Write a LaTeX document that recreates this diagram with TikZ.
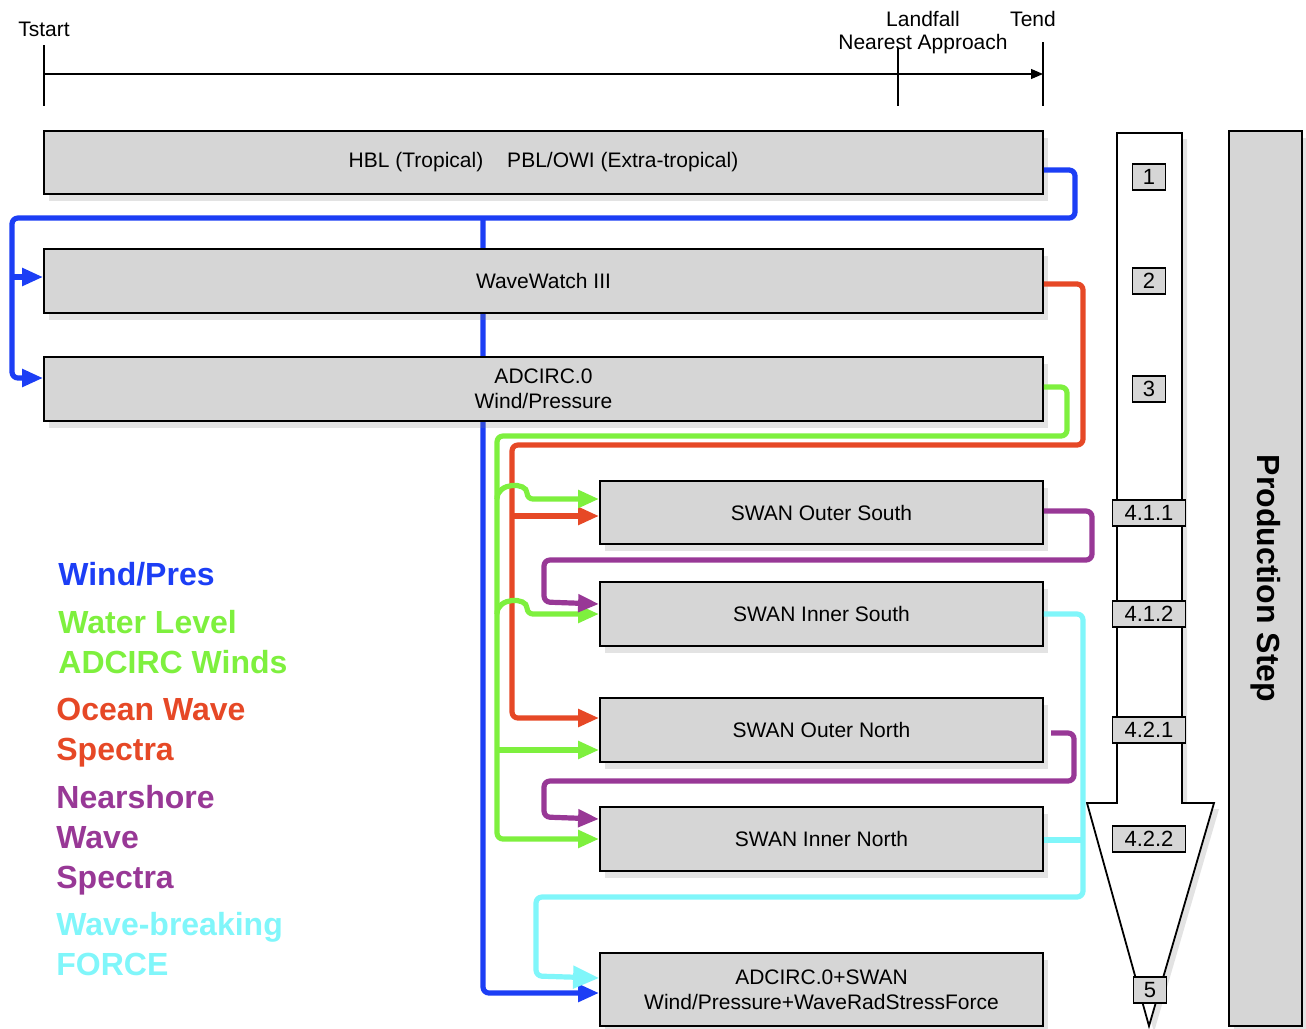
\documentclass[tikz,border=0pt]{standalone}
\usepackage{fontspec}
\setmainfont{Liberation Sans}
\usepackage{xcolor}
\usepackage{tikz}
\usetikzlibrary{arrows.meta,shadows,calc}

\definecolor{windblue}{RGB}{28,62,245}
\definecolor{wlgreen}{RGB}{126,240,62}
\definecolor{wavered}{RGB}{230,72,38}
\definecolor{nspurple}{RGB}{152,56,150}
\definecolor{forcecyan}{RGB}{128,246,250}
\definecolor{boxgray}{RGB}{214,214,214}

\pgfdeclarelayer{background}
\pgfsetlayers{background,main}

\begin{document}
\begin{tikzpicture}[
    x=0.5pt, y=-0.5pt,
    box/.style={draw, line width=0.9pt, fill=boxgray, inner sep=0pt, align=center,
        font=\fontsize{10.5}{12.5}\selectfont,
        drop shadow={shadow xshift=2.5pt, shadow yshift=-3.5pt, opacity=0.22}},
    widebox/.style={box, minimum width=499.5pt, minimum height=32pt},
    swanbox/.style={box, minimum width=221.5pt, minimum height=32pt},
    stepbox/.style={draw, line width=0.8pt, fill=boxgray, inner sep=0pt, minimum width=16.5pt,
        minimum height=13pt, font=\fontsize{11}{12}\selectfont},
    substep/.style={stepbox, minimum width=36.5pt},
    tlabel/.style={inner sep=0pt, font=\fontsize{10.5}{12.5}\selectfont},
    timeln/.style={draw, line width=0.6pt},
    legend/.style={anchor=west, inner sep=0pt, align=left, font=\fontsize{16}{20}\bfseries},
    conn/.style={line width=2.6pt, rounded corners=3pt},
    headed/.style={-{Triangle[length=10.5pt,width=8.5pt]}},
    bighead/.style={-{Triangle[length=13pt,width=11pt]}}
]
\useasboundingbox (0,0) rectangle (1306,1028);

% Time line
\node[tlabel] (tstart) at (44,29) {Tstart};
\node[tlabel] (landfall) at (923,19) {Landfall};
\node[tlabel] (nearest) at (923,44) {Nearest Approach};
\node[tlabel] (tend) at (1033,19) {Tend};
\coordinate (t0) at (44,74);
\coordinate (t1) at (1043,74);
\draw[timeln, -{Triangle[length=6pt,width=5pt]}] (t0) -- (t1);
\draw[timeln] (44,45) -- (44,106);
\draw[timeln] (898,48) -- (898,106);
\draw[timeln] (1043,42) -- (1043,106);

% Model runs
\node[widebox, minimum height=31.5pt] (hbl) at (543.5,162.5) {\raisebox{-1.5pt}{HBL (Tropical)\hspace{12pt}PBL/OWI (Extra-tropical)}};
\node[widebox] (ww3) at (543.5,281) {WaveWatch III};
\node[widebox] (adc) at (543.5,389) {ADCIRC.0\\Wind/Pressure};
\node[swanbox, minimum height=31.5pt] (sos) at (821.5,512.5) {SWAN Outer South};
\node[swanbox] (sis) at (821.5,614) {SWAN Inner South};
\node[swanbox] (son) at (821.5,730) {SWAN Outer North};
\node[swanbox] (sin) at (821.5,839) {SWAN Inner North};
\node[swanbox, minimum height=36.5pt] (adcswan) at (821.5,989.5) {ADCIRC.0+SWAN\\Wind/Pressure+WaveRadStressForce};

% Production step arrow
\draw[line width=0.9pt, fill=white, drop shadow={shadow xshift=2.5pt, shadow yshift=-3pt, opacity=0.22}]
    (1117,133) -- (1182,133) -- (1182,803) -- (1214,803) -- (1149,1026) -- (1087,803) -- (1117,803) -- cycle;
\node[stepbox] (st1) at (1149,177) {1};
\node[stepbox] (st2) at (1149,281) {2};
\node[stepbox] (st3) at (1149,389) {3};
\node[substep] (st411) at (1149,513) {4.1.1};
\node[substep] (st412) at (1149,614) {4.1.2};
\node[substep] (st421) at (1149,730) {4.2.1};
\node[substep] (st422) at (1149,839) {4.2.2};
\node[stepbox] (st5) at (1150,990) {5};
\node[box, rotate=-90, minimum width=447.5pt, minimum height=36.5pt, font=\fontsize{16}{19}\bfseries] (prod) at (1265.5,578.5) {Production Step};

% Legend
\node[legend, text=windblue] (lgwind) at (58,574) {Wind/Pres};
\node[legend, text=wlgreen] (lgwater) at (58,642) {Water Level\\ADCIRC Winds};
\node[legend, text=wavered] (lgocean) at (56,733) {Ocean Wave\\Spectra};
\node[legend, text=nspurple] (lgnear) at (56,840) {Nearshore\\Wave\\Spectra};
\node[legend, text=forcecyan] (lgforce) at (56,944) {Wave-breaking\\FORCE};

% Wind/Pres
\coordinate (wsplit) at (483,218);
\coordinate (wleft) at (12,277);
\begin{pgfonlayer}{background}
\draw[conn, headed, windblue] (wsplit) |- (adcswan.west |- 0,993);
\end{pgfonlayer}
\draw[conn, headed, windblue] (hbl.east |- 0,170) -| (1075,218) -| (12,378) -- (adc.west |- 0,378);
\draw[conn, headed, windblue] (wleft) -- (ww3.west |- 0,277);

% Ocean wave spectra
\draw[conn, headed, wavered] (ww3.east |- 0,284) -| (1083,445) -| (512,718) -- (son.west |- 0,718);
\coordinate (rsplit) at (512,516);
\draw[conn, headed, wavered] (rsplit) -- (sos.west |- 0,516);

% Water level / ADCIRC winds
\draw[conn, headed, wlgreen] (adc.east |- 0,387) -| (1067,436) -| (497,839) -- (sin.west |- 0,839);
\coordinate (gsplit1) at (497,499);
\coordinate (gsplit2) at (497,614);
\coordinate (gsplit3) at (497,750);
\draw[conn, headed, wlgreen] (gsplit1) .. controls (497,482) and (527,482) .. (527,499) -- (sos.west |- 0,499);
\draw[conn, headed, wlgreen] (gsplit2) .. controls (497,597) and (527,597) .. (527,614) -- (sis.west |- 0,614);
\draw[conn, headed, wlgreen] (gsplit3) -- (son.west |- 0,750);

% Nearshore wave spectra
\draw[conn, headed, nspurple] (sos.east |- 0,511) -| (1092,560) -| (544,602) -- (sis.west |- 0,604);
\coordinate (nsstart) at (1051,733);
\draw[conn, headed, nspurple] (nsstart) -| (1074,781) -| (544,817) -- (sin.west |- 0,819);

% Wave-breaking force
\draw[conn, bighead, forcecyan] (sis.east |- 0,614) -| (1083,897) -| (536,976) -- (adcswan.west |- 0,978);
\coordinate (fjoin) at (1083,840);
\draw[conn, forcecyan] (sin.east |- 0,840) -- (fjoin);

\end{tikzpicture}
\end{document}
